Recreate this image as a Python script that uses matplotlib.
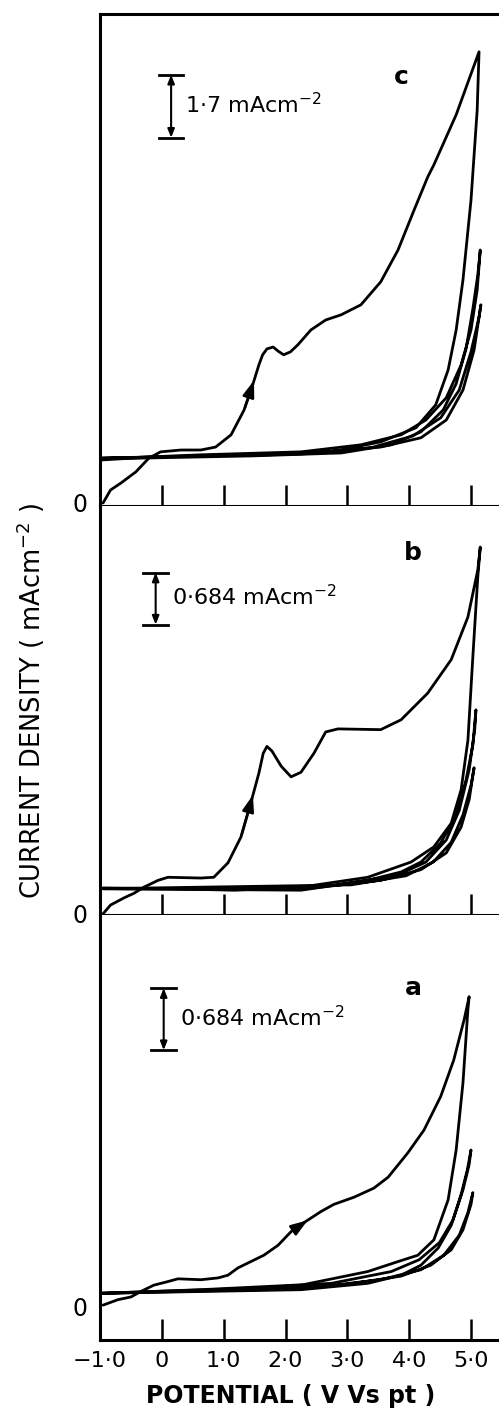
import numpy as np
import matplotlib
matplotlib.use("Agg")
import matplotlib.pyplot as plt

# cyclic voltammograms, potential (V vs Pt) and current density (mA cm^-2)
# panel c
c1_v = [-0.95, -0.83, -0.66, -0.42, -0.21, -0.02, 0.31, 0.63, 0.87, 1.12, 1.33, 1.47, 1.57, 1.63, 1.70, 1.80,
        1.88, 1.97, 2.08, 2.20, 2.41, 2.65, 2.90, 3.22, 3.54, 3.82, 4.08, 4.30, 4.40, 4.76, 5.13,
        5.10, 5.00, 4.87, 4.76, 4.63, 4.43, 4.11, 3.54, 2.73, 1.76, 0.63, -0.18, -0.99]
c1_j = [0.0, 0.35, 0.54, 0.84, 1.21, 1.38, 1.43, 1.43, 1.51, 1.84, 2.51, 3.19, 3.73, 4.00, 4.16, 4.21,
        4.10, 4.00, 4.08, 4.27, 4.67, 4.94, 5.08, 5.35, 5.97, 6.83, 7.91, 8.80, 9.13, 10.48, 12.18,
        10.61, 8.18, 6.02, 4.67, 3.59, 2.65, 2.03, 1.65, 1.38, 1.30, 1.27, 1.24, 1.16]
c2_v = [-0.99, 0.63, 2.25, 3.22, 3.87, 4.27, 4.60, 4.84, 5.00, 5.10, 5.15,
        5.11, 5.03, 4.92, 4.76, 4.55, 4.19, 3.71, 2.90, 1.44, -0.99]
c2_j = [1.19, 1.30, 1.38, 1.57, 1.84, 2.24, 2.84, 3.73, 4.67, 5.75, 6.83,
        6.16, 5.24, 4.16, 3.22, 2.51, 1.92, 1.57, 1.35, 1.27, 1.19]
c3_v = [-0.99, 2.25, 3.54, 4.19, 4.60, 4.87, 5.05, 5.16,
        5.13, 5.00, 4.81, 4.51, 4.06, 3.38, 2.25, -0.99]
c3_j = [1.21, 1.34, 1.51, 1.76, 2.24, 3.05, 4.13, 5.35,
        5.02, 4.08, 3.05, 2.30, 1.81, 1.49, 1.32, 1.21]

# panel b
b1_v = [-0.95, -0.83, -0.61, -0.45, -0.29, -0.06, 0.10, 0.63, 0.84, 1.07, 1.28, 1.44, 1.57, 1.64, 1.70, 1.78,
        1.93, 2.09, 2.25, 2.46, 2.65, 2.85, 3.54, 3.87, 4.30, 4.68, 4.95, 5.11, 5.15,
        5.11, 5.03, 4.95, 4.84, 4.68, 4.40, 4.03, 3.33, 2.25, 1.17, 0.10, -0.95]
b1_j = [-0.01, 0.105, 0.20, 0.26, 0.34, 0.43, 0.47, 0.46, 0.47, 0.66, 1.00, 1.45, 1.84, 2.10, 2.19, 2.13,
        1.93, 1.79, 1.85, 2.10, 2.38, 2.42, 2.41, 2.54, 2.89, 3.33, 3.89, 4.51, 4.81,
        4.42, 3.37, 2.27, 1.62, 1.18, 0.87, 0.67, 0.47, 0.34, 0.30, 0.32, 0.33]
b2_v = [-0.95, 2.25, 3.33, 3.87, 4.19, 4.51, 4.76, 4.92, 5.03, 5.08,
        5.06, 4.97, 4.81, 4.60, 4.27, 3.79, 2.74, 0.63, -0.95]
b2_j = [0.32, 0.30, 0.43, 0.54, 0.67, 0.92, 1.29, 1.75, 2.21, 2.67,
        2.41, 1.88, 1.35, 0.96, 0.67, 0.49, 0.36, 0.32, 0.32]
b3_v = [-0.95, 2.25, 3.54, 4.19, 4.60, 4.84, 4.97, 5.05,
        5.00, 4.87, 4.68, 4.39, 3.95, 3.06, -0.95]
b3_j = [0.32, 0.31, 0.43, 0.57, 0.79, 1.13, 1.49, 1.91,
        1.68, 1.29, 0.93, 0.67, 0.49, 0.37, 0.32]

# panel a
a1_v = [-0.95, -0.71, -0.50, -0.34, -0.13, 0.10, 0.26, 0.63, 0.91, 1.07, 1.23, 1.44, 1.65, 1.88, 2.09,
        2.30, 2.57, 2.78, 3.11, 3.43, 3.66, 3.98, 4.24, 4.51, 4.72, 4.89, 4.97,
        4.95, 4.87, 4.76, 4.63, 4.40, 4.14, 3.82, 3.33, 2.25, 1.17, 0.10, -0.99]
a1_j = [0.02, 0.08, 0.11, 0.17, 0.24, 0.28, 0.31, 0.30, 0.32, 0.35, 0.43, 0.50, 0.57, 0.68, 0.83,
        0.93, 1.05, 1.13, 1.21, 1.31, 1.43, 1.70, 1.95, 2.32, 2.72, 3.17, 3.42,
        3.28, 2.47, 1.73, 1.18, 0.74, 0.57, 0.50, 0.39, 0.24, 0.19, 0.17, 0.15]
a2_v = [-0.99, 2.25, 3.33, 3.87, 4.19, 4.47, 4.68, 4.84, 4.94, 5.00,
        4.97, 4.87, 4.71, 4.49, 4.16, 3.71, 2.74, 0.63, -0.99]
a2_j = [0.15, 0.19, 0.26, 0.35, 0.46, 0.65, 0.90, 1.24, 1.51, 1.73,
        1.57, 1.29, 0.96, 0.71, 0.52, 0.39, 0.26, 0.19, 0.15]
a3_v = [-0.99, 2.25, 3.54, 4.19, 4.56, 4.81, 4.95, 5.03,
        5.00, 4.87, 4.68, 4.35, 3.87, 2.90, -0.99]
a3_j = [0.15, 0.20, 0.30, 0.41, 0.57, 0.79, 1.04, 1.26,
        1.13, 0.85, 0.63, 0.46, 0.34, 0.24, 0.15]

panel_names = ["c", "b", "a"]
scale_values = ["1·7", "0·684", "0·684"]
xtick_vals = [-1, 0, 1, 2, 3, 4, 5]
xtick_labels = ["−1·0", "0", "1·0", "2·0", "3·0", "4·0", "5·0"]

panels = [
    dict(curves=[(c1_v, c1_j), (c2_v, c2_j), (c3_v, c3_j)], ylim=(-0.08, 13.2),
         bar=(0.15, 9.86, 1.7), txt=(0.37, 10.75), lab=(3.87, 11.5), arrow=11,
         pos=[0.2004, 0.6427, 0.8, 0.3474]),
    dict(curves=[(b1_v, b1_j), (b2_v, b2_j), (b3_v, b3_j)], ylim=(-0.026, 5.35),
         bar=(-0.10, 3.79, 0.684), txt=(0.16, 4.16), lab=(4.06, 4.73), arrow=11,
         pos=[0.2004, 0.3538, 0.8, 0.2889]),
    dict(curves=[(a1_v, a1_j), (a2_v, a2_j), (a3_v, a3_j)], ylim=(-0.364, 4.32),
         bar=(0.03, 2.83, 0.684), txt=(0.30, 3.19), lab=(4.06, 3.52), arrow=15,
         pos=[0.2004, 0.0537, 0.8, 0.3001]),
]

fig = plt.figure(figsize=(4.99, 14.16), dpi=100)

for i, p in enumerate(panels):
    ax = fig.add_axes(p["pos"])
    for v, j in p["curves"]:
        ax.plot(v, j, color="black", lw=2.0, solid_capstyle="round", solid_joinstyle="round")
    # direction arrow on the first sweep
    v1, j1 = p["curves"][0]
    k = p["arrow"]
    ax.annotate("", xy=(v1[k] + 0.35 * (v1[k + 1] - v1[k]), j1[k] + 0.35 * (j1[k + 1] - j1[k])),
                xytext=(v1[k - 1], j1[k - 1]),
                arrowprops=dict(arrowstyle="-|>,head_length=1.0,head_width=0.35", color="black", lw=1.8))

    # scale bar
    bx, by, bh = p["bar"]
    ax.annotate("", xy=(bx, by + bh), xytext=(bx, by),
                arrowprops=dict(arrowstyle="<|-|>,head_length=0.5,head_width=0.2", color="black", lw=1.5,
                                shrinkA=0, shrinkB=0))
    ax.plot([bx - 0.2, bx + 0.2], [by, by], color="black", lw=2)
    ax.plot([bx - 0.2, bx + 0.2], [by + bh, by + bh], color="black", lw=2)
    ax.text(p["txt"][0], p["txt"][1], scale_values[i] + " mAcm$^{-2}$", fontsize=16, va="center", ha="left")
    ax.text(p["lab"][0], p["lab"][1], panel_names[i], fontsize=18, fontweight="bold", va="center", ha="center")

    ax.set_xlim(-1.0, 5.456)
    ax.set_ylim(*p["ylim"])
    ax.set_xticks(xtick_vals)
    ax.set_yticks([0])
    ax.set_yticklabels(["0"], fontsize=17)
    ax.tick_params(axis="y", length=0, pad=9)
    ax.tick_params(axis="x", direction="in", length=15, width=1.8)
    if i < 2:
        ax.set_xticklabels([])
    else:
        ax.set_xticklabels(xtick_labels, fontsize=16)
        ax.tick_params(axis="x", pad=8)
    ax.spines["right"].set_visible(False)
    if i > 0:
        ax.spines["top"].set_visible(False)
    for s in ["left", "bottom", "top"]:
        ax.spines[s].set_linewidth(2.2)

fig.text(0.062, 1 - 701 / 1416, "CURRENT DENSITY ( mAcm$^{-2}$ )", rotation=90,
         fontsize=18.5, ha="center", va="center")
fig.text(0.583, 1 - 1396 / 1416, "POTENTIAL ( V Vs pt )", fontsize=17, fontweight="bold",
         ha="center", va="center")

fig.savefig("out.png", dpi=100, facecolor="white")
